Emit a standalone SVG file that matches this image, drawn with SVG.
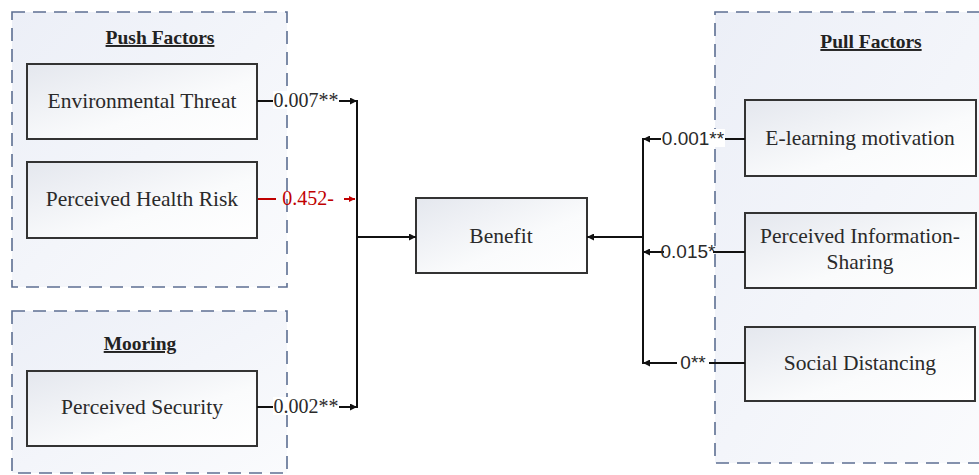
<svg xmlns="http://www.w3.org/2000/svg" width="979" height="475" viewBox="0 0 979 475">
<defs>
<linearGradient id="grp" x1="0" y1="0" x2="1" y2="1">
<stop offset="0" stop-color="#eceff7"/>
<stop offset="1" stop-color="#fafbfd"/>
</linearGradient>
<linearGradient id="box" x1="0" y1="0" x2="1" y2="1">
<stop offset="0" stop-color="#e4e7ee"/>
<stop offset="0.6" stop-color="#fafbfc"/>
<stop offset="1" stop-color="#ffffff"/>
</linearGradient>
<marker id="arr" viewBox="0 0 10 10" refX="10" refY="5" markerWidth="9" markerHeight="7" markerUnits="userSpaceOnUse" orient="auto">
<path d="M0,0 L10,5 L0,10 z" fill="#111"/>
</marker>
<marker id="arrR" viewBox="0 0 10 10" refX="10" refY="5" markerWidth="8" markerHeight="6" markerUnits="userSpaceOnUse" orient="auto">
<path d="M0,0 L10,5 L0,10 z" fill="#c00000"/>
</marker>
<style>
.grp{fill:url(#grp);stroke:#5d6f92;stroke-width:1.6;stroke-dasharray:13 8}
.box{fill:url(#box);stroke:#333;stroke-width:2}
.t{font-family:"Liberation Serif","Times New Roman",serif;font-size:21.5px;fill:#2a2a2a;text-anchor:middle}
.h{font-family:"Liberation Serif","Times New Roman",serif;font-size:19.5px;font-weight:bold;fill:#222;text-anchor:middle;text-decoration:underline}
.c{fill:none;stroke:#111;stroke-width:2}
.cr{fill:none;stroke:#c00000;stroke-width:2}
.ls{font-family:"Liberation Serif","Times New Roman",serif;font-size:20px;fill:#2a2a2a;text-anchor:middle}
.lr{font-family:"Liberation Serif","Times New Roman",serif;font-size:20px;fill:#c00000;text-anchor:middle}
.la{font-family:"Liberation Sans",Arial,sans-serif;font-size:19px;fill:#2a2a2a;text-anchor:middle}
.bg{fill:#ffffff}
</style>
</defs>

<g id="push-factors">
<rect class="grp" x="12" y="12" width="275" height="275"/>
<text class="h" x="160" y="44">Push Factors</text>
</g>
<g id="mooring">
<rect class="grp" x="12" y="311" width="275" height="162"/>
<text class="h" x="140" y="350">Mooring</text>
</g>
<g id="pull-factors">
<rect class="grp" x="715" y="12" width="275" height="451"/>
<text class="h" x="871" y="48">Pull Factors</text>
</g>

<g id="environmental-threat">
<rect class="box" x="27" y="64" width="230" height="75"/>
<text class="t" x="142" y="108">Environmental Threat</text>
</g>
<g id="perceived-health-risk">
<rect class="box" x="27" y="162" width="230" height="76"/>
<text class="t" x="142" y="206">Perceived Health Risk</text>
</g>
<g id="perceived-security">
<rect class="box" x="27" y="371" width="230" height="75"/>
<text class="t" x="142" y="414">Perceived Security</text>
</g>
<g id="benefit">
<rect class="box" x="416" y="198" width="171" height="75"/>
<text class="t" x="501" y="243">Benefit</text>
</g>
<g id="e-learning-motivation">
<rect class="box" x="745" y="100" width="231" height="76"/>
<text class="t" x="860" y="145">E-learning motivation</text>
</g>
<g id="perceived-information-sharing">
<rect class="box" x="745" y="213" width="231" height="75"/>
<text class="t" x="860" y="243">Perceived Information-</text>
<text class="t" x="860" y="269">Sharing</text>
</g>
<g id="social-distancing">
<rect class="box" x="745" y="327" width="230" height="74"/>
<text class="t" x="860" y="370">Social Distancing</text>
</g>

<g id="connectors">
<path class="c" d="M257,101 H357" marker-end="url(#arr)"/>
<path class="c" d="M257,407 H357" marker-end="url(#arr)"/>
<path class="cr" d="M258,199 H276"/>
<path class="cr" d="M344,199 H355" marker-end="url(#arrR)"/>
<path class="c" d="M357,100 V408"/>
<path class="c" d="M357,237 H416" marker-end="url(#arr)"/>
<path class="c" d="M745,139 H643" marker-end="url(#arr)"/>
<path class="c" d="M745,252 H643" marker-end="url(#arr)"/>
<path class="c" d="M745,363 H643" marker-end="url(#arr)"/>
<path class="c" d="M643,138 V364"/>
<path class="c" d="M643,237 H587" marker-end="url(#arr)"/>

<rect class="bg" x="273" y="91" width="66" height="18"/>
<text class="ls" x="306" y="107">0.007**</text>
<rect class="bg" x="273" y="397" width="66" height="18"/>
<text class="ls" x="306" y="413">0.002**</text>
<text class="lr" x="308" y="205">0.452-</text>
<rect class="bg" x="661" y="129" width="64" height="18"/>
<text class="la" x="693" y="145">0.001**</text>
<rect class="bg" x="664" y="242" width="49" height="18"/>
<text class="la" x="688" y="258">0.015*</text>
<rect class="bg" x="677" y="353" width="32" height="18"/>
<text class="la" x="693" y="369">0**</text>
</g>
</svg>
